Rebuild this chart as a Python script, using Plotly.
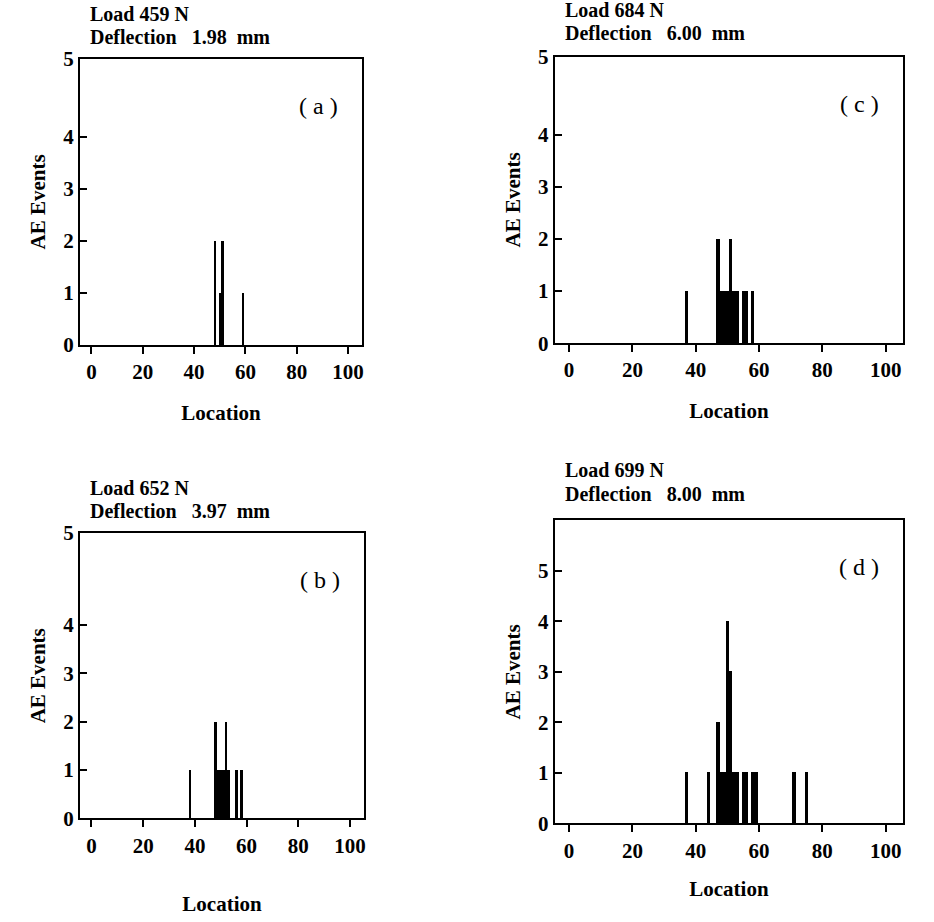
import plotly.graph_objects as go

# ---------------- data ----------------
loc_a = [48, 50, 51, 59]
cnt_a = [2, 1, 2, 1]

loc_b = [38, 48, 49, 50, 51, 52, 53, 56, 58]
cnt_b = [1, 2, 1, 1, 1, 2, 1, 1, 1]

loc_c = [37, 47, 48, 49, 50, 51, 52, 53, 55, 56, 58]
cnt_c = [1, 2, 1, 1, 1, 2, 1, 1, 1, 1, 1]

loc_d = [37, 44, 47, 48, 49, 50, 51, 52, 53, 55, 56, 58, 59, 71, 75]
cnt_d = [1, 1, 2, 1, 1, 4, 3, 1, 1, 1, 1, 1, 1, 1, 1]

loads = ["459", "652", "684", "699"]
deflections = ["1.98", "3.97", "6.00", "8.00"]
panel_tags = ["a", "b", "c", "d"]

x_ticks = [0, 20, 40, 60, 80, 100]
y_tick_text = ["0", "1", "2", "3", "4", "5"]

W, H = 934, 922
# panel layout: (left, right, top, bottom) px, y-axis top value, "5" label position,
# x-title standoff, title offset
panels = {
    "a": ((80, 363, 48, 342), 5.5, 5.5, 22, 0),
    "b": ((80, 365, 535, 828), 5.9, 5.9, 40, 0),
    "c": ((556, 905, 46, 340), 5.5, 5.5, 22, 2),
    "d": ((556, 905, 522, 833), 6.0, 5.0, 20, 5),
}

FONT = "Liberation Serif"
fig = go.Figure()
series = {"a": (loc_a, cnt_a), "b": (loc_b, cnt_b), "c": (loc_c, cnt_c), "d": (loc_d, cnt_d)}
annotations = []
for i, tag in enumerate(panel_tags):
    n = "" if i == 0 else str(i + 1)
    locs, cnts = series[tag]
    fig.add_trace(go.Bar(x=locs, y=cnts, width=1.0, marker=dict(color="black", line=dict(width=0)),
                         xaxis="x" + n, yaxis="y" + n, showlegend=False))
    (l, r, t, b), ytop, five, xstand, toff = panels[tag]
    xd = [l / W, r / W]
    yd = [1 - b / H, 1 - t / H]
    axis_common = dict(showline=True, linecolor="black", linewidth=2, mirror=True,
                       showgrid=False, zeroline=False, ticklen=7, tickwidth=2, tickcolor="black",
                       tickfont=dict(family=FONT, size=21, color="black", weight="bold"))
    fig.update_layout(**{
        "xaxis" + n: dict(domain=xd, range=[-4.5, 105.5], tickvals=x_ticks, ticks="outside",
                          anchor="y" + n, title=dict(text="<b>Location</b>", standoff=xstand,
                          font=dict(family=FONT, size=21, color="black")), **axis_common),
        "yaxis" + n: dict(domain=yd, range=[0, ytop], tickvals=[0, 1, 2, 3, 4, five],
                          ticktext=y_tick_text, ticks="inside", anchor="x" + n,
                          title=dict(text="<b>AE Events</b>", standoff=12,
                          font=dict(family=FONT, size=21, color="black")), **axis_common),
    })
    annotations.append(dict(xref="paper", yref="paper", x=(l + 8) / W, y=1 - (t - 33 - toff) / H,
                            text=f"<b>Load {loads[i]} N</b>", showarrow=False, xanchor="left",
                            yanchor="bottom", font=dict(family=FONT, size=20, color="black")))
    annotations.append(dict(xref="paper", yref="paper", x=(l + 8) / W, y=1 - (t - 9 - toff) / H,
                            text=f"<b>Deflection   {deflections[i]}  mm</b>", showarrow=False, xanchor="left",
                            yanchor="bottom", font=dict(family=FONT, size=20, color="black")))
    annotations.append(dict(xref="paper", yref="paper", x=(r - 22) / W, y=1 - (t + 48) / H,
                            text=f"( {tag} )", showarrow=False, xanchor="right",
                            yanchor="middle", font=dict(family=FONT, size=24, color="black")))

fig.update_layout(width=W, height=H, margin=dict(l=0, r=0, t=0, b=0),
                  paper_bgcolor="white", plot_bgcolor="white", bargap=0,
                  annotations=annotations)
fig.write_html("out.html")
